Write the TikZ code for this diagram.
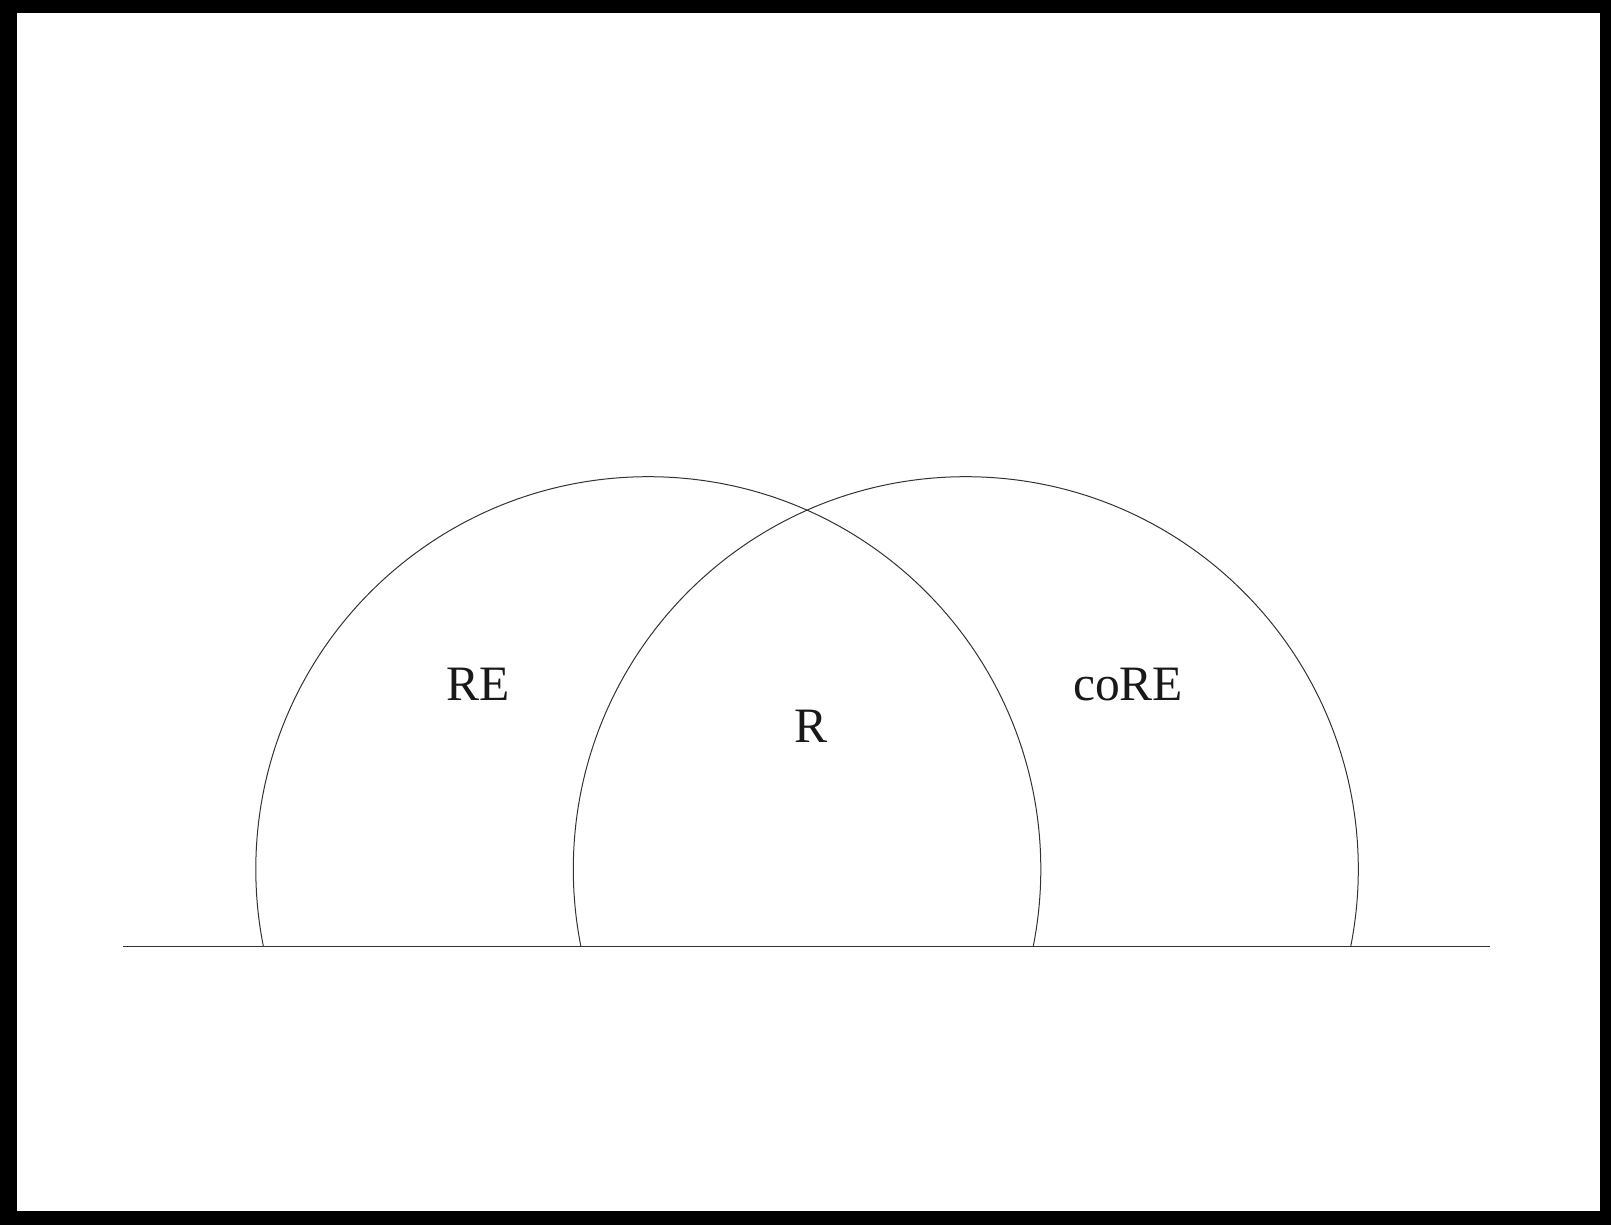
\documentclass[tikz,border=0pt]{standalone}
\usepackage{fontspec}
\setmainfont{Liberation Serif}
\begin{document}
\begin{tikzpicture}[x=1pt,y=-1pt,
  setline/.style={line width=1pt,draw=black!80},
  setcircle/.style={circle,setline,minimum size=785pt,inner sep=0pt},
  lbl/.style={anchor=base,inner sep=0pt,text=black!90,font=\fontsize{49.5}{59}\selectfont}]
\useasboundingbox (0,0) rectangle (1611,1225);
\fill[black] (0,0) rectangle (1611,1225);
\fill[white] (17,13) rectangle (1600,1211);
\begin{scope}
  \clip (0,0) rectangle (1611,946);
  \node[setcircle] (re) at (648.3,869.2) {};
  \node[setcircle] (core) at (965.8,869.2) {};
\end{scope}
\coordinate (bl) at (123,946);
\coordinate (br) at (1490,946);
\draw[setline] (bl) -- (br);
\node[lbl] (tre) at (478,700) {RE};
\node[lbl] (tr) at (811,742.7) {R};
\node[lbl] (tcore) at (1128,700) {coRE};
\end{tikzpicture}
\end{document}
